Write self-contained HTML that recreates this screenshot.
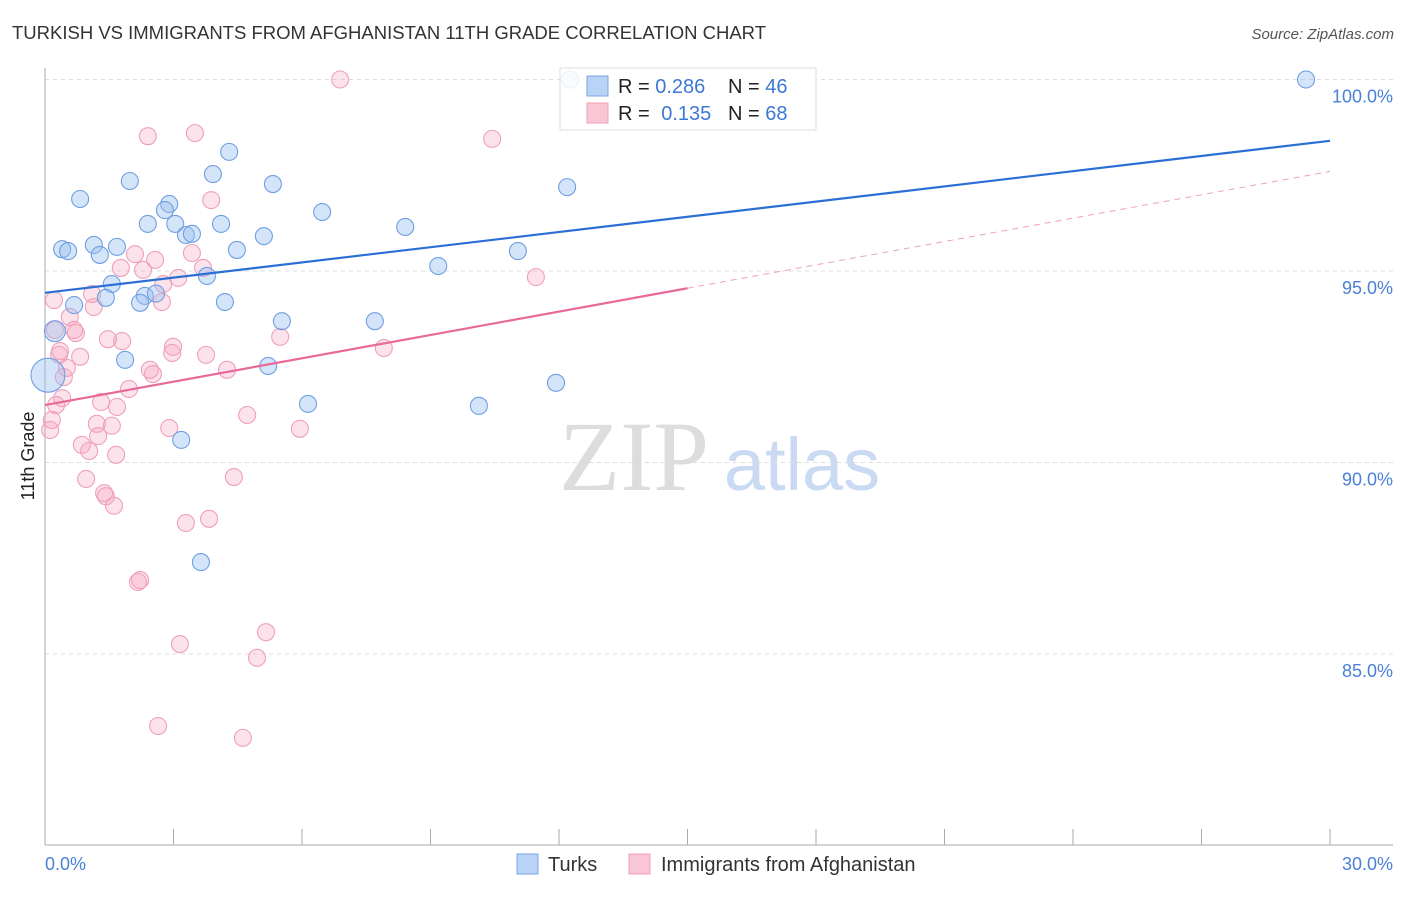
<!DOCTYPE html>
<html><head><meta charset="utf-8"><style>
body{margin:0;background:#fff;font-family:"Liberation Sans",sans-serif}
svg text{font-family:"Liberation Sans",sans-serif}
</style></head><body>
<svg id="c" width="1406" height="892">
<text x="12" y="39" font-size="18" fill="#333" textLength="754" lengthAdjust="spacingAndGlyphs">TURKISH VS IMMIGRANTS FROM AFGHANISTAN 11TH GRADE CORRELATION CHART</text>
<text x="1394" y="39" font-size="15" fill="#555" font-style="italic" text-anchor="end">Source: ZipAtlas.com</text>
<text x="634" y="490" font-size="100" fill="#ddd" text-anchor="middle" style="font-family:'Liberation Serif',serif">ZIP</text>
<text x="802" y="490" font-size="74" fill="#c9daf2" text-anchor="middle">atlas</text>
<g id="grid"></g><g id="axes"></g><g id="pts"></g><g id="lines"></g>
<text transform="translate(34,456) rotate(-90)" font-size="18" fill="#222" text-anchor="middle">11th Grade</text>
<g>
<rect x="560" y="68" width="256" height="62" fill="rgba(255,255,255,0.85)" stroke="#ddd"/>
<rect x="587" y="76" width="21" height="20" fill="#b8d3f5" stroke="#7aa6e3"/>
<rect x="587" y="103" width="21" height="20" fill="#f9c6d6" stroke="#f0a0ba"/>
<text x="618" y="93" font-size="20" fill="#222">R = <tspan fill="#3d78d6">0.286</tspan></text>
<text x="728" y="93" font-size="20" fill="#222">N = <tspan fill="#3d78d6">46</tspan></text>
<text x="618" y="120" font-size="20" fill="#222">R = <tspan fill="#3d78d6" dx="6">0.135</tspan></text>
<text x="728" y="120" font-size="20" fill="#222">N = <tspan fill="#3d78d6">68</tspan></text>
</g>
<g>
<rect x="517" y="854" width="21" height="20" fill="#b8d3f5" stroke="#7aa6e3"/>
<text x="548" y="871" font-size="20" fill="#333">Turks</text>
<rect x="629" y="854" width="21" height="20" fill="#f9c6d6" stroke="#f0a0ba"/>
<text x="661" y="871" font-size="20" fill="#333">Immigrants from Afghanistan</text>
</g>
</svg>
<script>
const yTicks=[100,95,90,85];
const yTickLabels=["100.0%","95.0%","90.0%","85.0%"];
const xTickVals=[0,3,6,9,12,15,18,21,24,27,30];
const turksX=[12.26,29.44,4.30,1.98,3.92,5.32,12.19,0.82,2.90,2.80,6.47,2.40,3.04,4.11,8.41,3.29,3.43,5.11,0.40,0.54,1.14,1.68,1.28,4.48,11.04,9.18,3.78,1.56,1.42,2.33,2.59,2.22,4.20,0.68,5.53,7.70,0.23,1.87,5.21,11.93,6.14,10.13,3.18,3.64,0.07];
const turksY=[100.0,100.0,98.11,97.35,97.53,97.27,97.19,96.88,96.75,96.59,96.54,96.23,96.23,96.23,96.15,95.94,95.97,95.91,95.57,95.52,95.68,95.63,95.42,95.55,95.52,95.13,94.87,94.66,94.30,94.35,94.41,94.17,94.19,94.11,93.69,93.69,93.43,92.68,92.52,92.08,91.53,91.48,90.59,87.40,92.28];
const afgX=[6.89,2.40,3.50,10.44,3.88,2.10,3.43,2.57,1.77,3.69,2.29,3.11,2.76,1.10,0.21,2.73,1.14,0.58,0.68,0.72,5.49,1.47,1.80,2.99,0.35,2.97,0.82,3.76,7.91,0.51,2.45,2.52,4.25,0.44,1.96,0.40,0.26,1.31,1.68,0.16,4.72,1.21,1.56,2.90,5.95,0.12,1.24,0.86,1.03,1.66,0.96,4.41,11.46,1.38,1.42,1.61,3.83,3.29,2.22,2.17,5.16,3.15,4.95,2.64,4.62,0.23,0.33];
const afgY=[100.0,98.52,98.60,98.45,96.85,95.44,95.47,95.29,95.08,95.08,95.03,94.82,94.66,94.40,94.24,94.19,94.06,93.80,93.46,93.38,93.28,93.22,93.17,93.02,92.91,92.86,92.76,92.81,92.99,92.47,92.42,92.31,92.42,92.23,91.92,91.68,91.50,91.58,91.45,91.11,91.24,91.01,90.96,90.90,90.88,90.85,90.69,90.46,90.30,90.20,89.57,89.62,94.84,89.20,89.12,88.87,88.53,88.42,86.93,86.88,85.57,85.26,84.90,83.12,82.81,93.46,92.81];
const turksTrend=[94.43,98.40];
const afgTrend=[91.50,97.60];
const afgSolidEnd=15;
const NS="http://www.w3.org/2000/svg";
const X=v=>45+v/30*1285, Y=v=>79.5+(100-v)*38.3;
function mk(p,t,a){const e=document.createElementNS(NS,t);for(const k in a)e.setAttribute(k,a[k]);document.getElementById(p).appendChild(e);return e;}
yTicks.forEach((t,i)=>{
 const l=mk('grid','line',{x1:45,x2:1393,y1:Y(t),y2:Y(t),stroke:'#ddd','stroke-dasharray':'4,4'});
 
 
 const tx=mk('grid','text',{x:1393,y:Y(t)+23,'font-size':18,fill:'#4a80d8','text-anchor':'end'});
 tx.textContent=yTickLabels[i];
 
 
});
let a=mk('axes','line',{x1:45,x2:45,y1:68,y2:845,stroke:'#aaa'});


a=mk('axes','line',{x1:45,x2:1393,y1:845,y2:845,stroke:'#aaa'});


xTickVals.forEach(v=>{
 const t=mk('axes','line',{x1:X(v),x2:X(v),y1:829,y2:845,stroke:'#aaa'});
 
 
});
let xl=mk('axes','text',{x:45,y:870,'font-size':18,fill:'#4a80d8'});xl.textContent='0.0%';


xl=mk('axes','text',{x:1393,y:870,'font-size':18,fill:'#4a80d8','text-anchor':'end'});xl.textContent='30.0%';


afgX.forEach((x,i)=>{
 const c=mk('pts','circle',{cx:X(x),cy:Y(afgY[i]),r:8.5,fill:'rgba(245,160,190,0.3)',stroke:'#efa0bb','stroke-width':1.1});
 
 
});
turksX.forEach((x,i)=>{
 const big=i===turksX.length-1;
 const c=mk('pts','circle',{cx:X(x),cy:Y(turksY[i]),r:big?17:(i===36?10.5:8.5),fill:'rgba(150,190,240,0.4)',stroke:'#6f9fe2','stroke-width':1.1});
 
 
});
let ln=mk('lines','line',{x1:X(0),y1:Y(turksTrend[0]),x2:X(30),y2:Y(turksTrend[1]),stroke:'#2b6fd6','stroke-width':2.2});


const am=afgTrend[0]+(afgTrend[1]-afgTrend[0])*afgSolidEnd/30;
ln=mk('lines','line',{x1:X(0),y1:Y(afgTrend[0]),x2:X(afgSolidEnd),y2:Y(am),stroke:'#e8699a','stroke-width':2.2});


ln=mk('lines','line',{x1:X(afgSolidEnd),y1:Y(am),x2:X(30),y2:Y(afgTrend[1]),stroke:'#eea0bc','stroke-width':1,'stroke-dasharray':'6,5'});


</script>
</body></html>
